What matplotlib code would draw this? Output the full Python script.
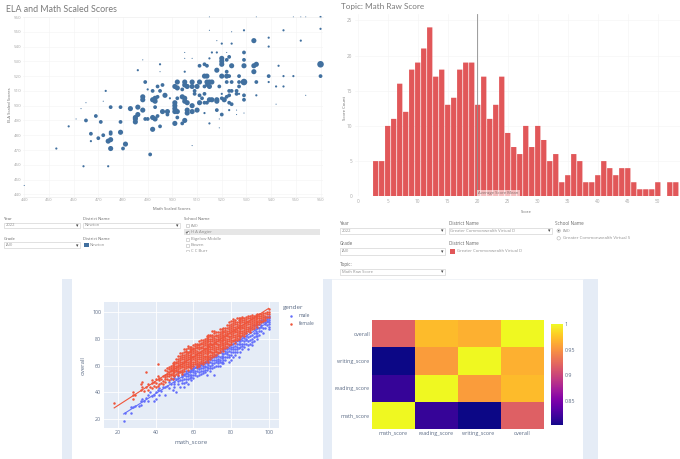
import numpy as np
import matplotlib
matplotlib.use('Agg')
import matplotlib.pyplot as plt
from matplotlib.patches import Rectangle, Circle

plt.rcParams['font.family'] = ['Open Sans', 'DejaVu Sans']

# top left: math score, ela score, number of students
district_points = [
    (440,446,1),(453,471,4),(458,486,4),(461,491,1),(463,498,1),(465,502,1),(465,490,12),(464,459,4),
    (467,481,12),(467,476,4),(469,493,12),(470,478,12),(471,489,12),(472,480,12),(472,503,1),(473,510,4),
    (474,476,22),(475,477,22),(474,459,4),(475,471,22),(475,481,12),(475,482,12),(475,499,12),(479,499,12),
    (479,489,12),(479,482,22),(480,471,12),(481,474,22),(483,498,22),(485,492,22),(485,491,22),(486,494,22),
    (485,489,22),(486,499,22),(486,524,4),(488,531,1),(488,497,22),(488,504,22),(488,506,22),(489,491,12),
    (490,491,12),(489,516,12),(490,511,4),(491,467,12),(492,492,22),(493,491,22),(492,484,22),(492,504,22),
    (493,505,22),(493,503,22),(494,506,12),(492,510,12),(494,513,12),(495,510,12),(496,514,12),(495,528,4),
    (495,523,1),(495,486,12),(493,499,12),(494,493,12),(496,496,22),(498,496,22),(498,494,12),(497,507,22),
    (499,505,4),(501,488,22),(501,502,22),(501,500,22),(501,498,22),(501,496,22),(502,496,22),(502,505,12),
    (501,513,22),(502,516,22),(502,512,22),(504,511,12),(504,488,12),(505,490,22),(502,492,12),(505,536,1),
    (505,532,1),(508,532,1),(505,523,4),(505,516,22),(505,514,22),(504,506,22),(505,505,22),(505,503,22),
    (506,502,22),(506,513,22),(508,513,22),(508,516,22),(510,513,22),(511,516,22),(506,497,22),(506,495,22),
    (508,496,22),(508,500,22),(510,497,22),(508,473,1),(509,510,12),(509,508,12),(511,507,12),(511,502,22),
    (512,505,12),(513,508,12),(513,502,12),(514,502,12),(513,495,4),(515,488,4),(511,527,12),(513,528,12),
    (514,527,12),(513,520,22),(514,520,22),(514,516,22),(515,516,22),(516,516,22),(515,513,22),(513,513,12),
    (514,514,12),(515,532,4),(516,536,4),(518,536,4),(515,551,1),(518,544,1),(520,542,4),(522,536,1),
    (524,542,4),(524,550,1),(529,551,4),(515,504,22),(516,504,22),(518,504,22),(518,503,22),(520,505,12),
    (521,504,22),(518,524,22),(518,497,12),(519,513,12),(519,491,1),(519,485,1),(520,494,12),(520,508,4),
    (520,532,22),(520,530,22),(520,528,22),(522,531,12),(523,533,12),(520,520,22),(522,520,22),(522,523,12),
    (522,516,12),(524,516,12),(524,527,22),(523,520,12),(523,510,12),(524,510,12),(522,506,12),(523,507,12),
    (523,502,12),(524,501,12),(523,497,4),(526,497,1),(526,494,1),(529,495,1),(526,510,12),(527,520,12),
    (527,516,12),(527,513,12),(526,508,12),(527,508,4),(529,516,36),(529,527,22),(529,531,12),(529,536,12),
    (529,504,12),(529,507,12),(533,544,22),(533,523,22),(533,527,22),(534,528,22),(534,516,12),(534,507,4),
    (539,546,4),(539,540,4),(539,520,12),(539,516,4),(542,513,4),(545,513,4),(543,527,4),(545,520,4),
    (549,520,4),(545,551,4),(552,544,4),(560,552,4),(560,528,36),(560,520,12),(542,501,1),(554,507,1),
    (560,560,4),(534,560,1),(549,560,1),(552,560,1),(554,560,1),(515,560,1),
]

# top right histogram
raw_scores = [3,4,5,6,7,8,9,10,11,12,13,14,15,16,17,18,19,20,21,22,23,24,25,26,27,28,
              29,30,31,32,33,34,35,36,37,38,39,40,41,42,43,44,45,46,47,48,49,50,52,53]
raw_counts = [5,5,10,11,16,12,18,19,21,24,17,18,13,14,18,19,19,13,17,11,13,17,9,7,6,10,
              7,10,8,5,6,2,3,6,5,2,2,3,5,4,3,4,4,2,1,1,1,2,2,2]
raw_mean = 19.8

# bottom left: math score -> overall scores
male_rows = {
    23:[19],24:[25],27:[25,29],28:[29],29:[30],31:[30],32:[31,34],33:[35],34:[34],35:[36],36:[34,38],37:[40],
    38:[37],39:[34,38],40:[35,40],41:[42],42:[38,43],43:[41],44:[44],45:[38,44],46:[45],47:[43,48],48:[46,50],
    49:[42,50],50:[44,48,52],51:[40,50],52:[46,52,55],53:[44,49],54:[47,53,55],55:[44,50],56:[48,52,56],
    57:[46,54],58:[51,56,59],59:[49,53],60:[51,55,58,60],61:[56],62:[52,58,61],63:[55,60],64:[54,58,62],
    65:[56,61],66:[57,60,63],67:[53,59],68:[58,62,65],69:[56,60],70:[58,62,66],71:[53,64],72:[60,66,68],
    73:[62,65],74:[60,64,70],75:[63,67],76:[62,66,72],77:[64,69],78:[66,70,74],79:[63,68],80:[64,68,72,76],
    81:[70,74],82:[68,72,78],83:[70,74],84:[66,76,80],85:[70,74,78],86:[72,76,82],87:[74,78],88:[76,80,84],
    89:[72,78],90:[76,82,88],91:[75,80],92:[78,84,90],93:[82,86],94:[80,84,90],95:[83,88],96:[86,90,94],
    97:[84,92],98:[88,94,96],99:[90,96],100:[87,89,92,95,97],
}
male_extra = {
    50:[46.3,50.7],52:[48.7,51],54:[49.3,51.3],55:[47.3,52.7,54],56:[50.3,54.7],57:[49.7,52.3,56],58:[53.3,55],
    59:[51.3,55.7,57.3],60:[53.3,56.7],61:[52.7,54.3,58.7],62:[55.7,59.7],63:[53.3,57.7,58.7],64:[56.3,60.3],
    65:[54.7,58.3,60],66:[55.3,59,61.7],67:[56.7,61.7,63],68:[60.3,63.7],69:[58.3,62.7,65],70:[60.3,64.3],
    71:[58.7,61.7,66],72:[62.3,64.3],73:[59.3,63.7,67.3],74:[62.3,66.7],75:[61.7,65.3,69],76:[64.3,68.3],
    77:[66.7,71],78:[68.3,72],79:[66.3,70.7,73],80:[70.3,74],81:[66.7,72.3,76],82:[70.3,74.7],83:[72.3,76.3],
    84:[72.7,78],85:[76.3,80],86:[74.3,78.7],87:[76.3,80.7],88:[78.7,82],89:[75.3,81],90:[79.3,84.7],91:[77.7,83],
    92:[81.3,87],93:[84.3,88.7],94:[82.3,87.7],95:[85.3,91],96:[88.3,92],97:[87.7,94],98:[90.7,92.3],99:[93,94.7],
    100:[90.7,94],
}
female_rows = {
    18:[32],28:[35,38,40],29:[38],32:[42,46],33:[44,48],34:[41],35:[44,55],36:[42,46],37:[44],38:[43,47,49],
    39:[45,48],40:[44,47,50],41:[45,52,61],42:[46,49,51],43:[47,50],44:[46,52],45:[48,50,53,57],46:[50,54,56,58],
    47:[49,52,55,59],48:[51,54,57,60],49:[50,53,56,59,62],50:[52,55,58,61],51:[54,57,60,63],52:[53,56,59,62,65],
    53:[55,58,61,64,67],54:[54,57,60,63,66,69],55:[56,59,62,65,68],56:[58,61,64,67,70,72],57:[57,60,63,66,69,73],
    58:[59,62,65,68,71,74],59:[58,61,64,67,70,72],60:[60,63,66,69,72,75],61:[61,64,67,70,73],
    62:[59,62,65,68,71,74,76],63:[60,63,66,69,72,75,78],64:[62,65,68,71,74,77],65:[61,64,67,70,73,76,79],
    66:[63,66,69,72,75,78],67:[64,67,70,73,76,79,82],68:[63,66,69,72,75,78,81],69:[65,68,71,74,77,80,83],
    70:[66,69,72,75,78,81,86],71:[67,70,73,76,79,82,84],72:[68,71,74,77,80,83],73:[69,72,75,78,81,85],
    74:[70,73,76,79,82,85],75:[72,75,78,81,84,87],76:[71,74,77,80,83,86],77:[73,76,79,82,85,88],
    78:[74,77,80,83,86,90],79:[75,78,81,84,87,90],80:[76,79,82,85,88,91,93],81:[78,81,84,87,90,93],
    82:[77,80,83,86,89,92],83:[79,82,85,88,91,95],84:[80,83,86,89,92],85:[81,84,87,90,93,95],86:[83,86,89,92,95],
    87:[82,85,88,91,94],88:[84,87,90,93,96],89:[86,89,92,95],90:[85,88,91,94,97],91:[87,90,93,96],92:[88,91,94,97],
    93:[90,93,96],94:[89,92,95,98],95:[91,94,97],96:[92,95,98],97:[93,96,99],98:[94,97],99:[96,98,100],
    100:[96,98,100,102],
}
female_extra = {
    44:[48.3],45:[51.7],46:[52.3],47:[53.7,57.3],48:[52.7,55.7,58.3],49:[54.7,57.7,60.3],50:[53.3,56.7,59.7,63],
    51:[55.7,58.3,61.7,65],52:[54.3,57.7,60.7,63.3,67],53:[56.3,59.7,62.7,65.3,69],54:[55.3,58.7,61.3,64.7,67.7],
    55:[57.7,60.3,63.7,66.3,69.7,72],56:[59.7,62.3,65.7,68.3,71],57:[58.7,61.3,64.7,67.7,70.3,74.3],
    58:[60.3,63.7,66.3,69.7,72.3],59:[59.7,62.7,65.3,68.7,71.3,73.7],60:[61.3,64.7,67.3,70.7,73.3],
    61:[62.3,65.7,68.3,71.7,74.3,76],62:[60.7,63.3,66.7,69.3,72.7,75.3],63:[61.3,64.7,67.7,70.3,73.7,76.3],
    64:[63.3,66.7,69.3,72.7,75.7,78.7],65:[62.7,65.3,68.7,71.3,74.7,77.3],66:[64.7,67.3,70.7,73.3,76.7,79.7],
    67:[65.3,68.7,71.3,74.7,77.7,80.3],68:[64.7,67.3,70.7,73.7,76.3,79.7,83],69:[66.3,69.7,72.3,75.7,78.3,81.7],
    70:[67.7,70.3,73.7,76.3,79.7,83],71:[68.3,71.7,74.3,77.7,80.3,86],72:[69.7,72.3,75.7,78.3,81.7,84.7],
    73:[70.3,73.7,76.3,79.7,82.7],74:[71.7,74.3,77.7,80.3,83.7,87],75:[73.3,76.7,79.3,82.7,85.3],
    76:[72.7,75.3,78.7,81.3,84.7,88],77:[74.3,77.7,80.3,83.7,86.3],78:[75.7,78.3,81.7,84.3,87.7],
    79:[76.3,79.7,82.3,85.7,88.3,92],80:[77.7,80.3,83.7,86.3,89.7],81:[79.3,82.7,85.3,88.7,91.3,94.7],
    82:[78.7,81.3,84.7,87.3,90.7,94],83:[80.3,83.7,86.3,89.7,92.7],84:[81.7,84.3,87.7,90.3,93.7,95.3],
    85:[82.3,85.7,88.3,91.7,94.3],86:[84.3,87.7,90.3,93.7,96.3],87:[83.7,86.3,89.7,92.3,95.7],88:[85.3,88.7,91.3,94.7],
    89:[87.3,90.7,93.3,96.7],90:[86.3,89.7,92.3,95.3],91:[88.7,91.3,94.7,97.3],92:[89.3,92.7,95.3],93:[91.7,94.3,97.7],
    94:[90.7,93.3,96.7],95:[92.3,95.7,98.3],96:[93.3,96.7],97:[94.7,97.7],98:[95.3,98.7],
}
male_trend_x = [23, 100]
male_trend_y = [24, 92.5]
female_trend_x = [18, 100]
female_trend_y = [28.5, 102.5]

# bottom right correlation
score_names = ['math_score', 'reading_score', 'writing_score', 'overall']
corr = [[1.000, 0.818, 0.803, 0.919],
        [0.818, 1.000, 0.955, 0.971],
        [0.803, 0.955, 1.000, 0.966],
        [0.919, 0.971, 0.966, 1.000]]

W, H = 680, 459
DARK = '#666666'
PLOTLY = '#5b6b85'

fig = plt.figure(figsize=(W / 100, H / 100), dpi=100, facecolor='white')


def px_axes(x0, y0, x1, y1):
    return fig.add_axes([x0 / W, 1 - y1 / H, (x1 - x0) / W, (y1 - y0) / H])


ui = fig.add_axes([0, 0, 1, 1], zorder=0)
ui.set_xlim(0, W)
ui.set_ylim(H, 0)
ui.axis('off')


def label(x, y, s, size=3.0, color=DARK, **kw):
    kw.setdefault('va', 'center')
    ui.text(x, y, s, fontsize=size, color=color, **kw)


def dropdown(x0, x1, y0, y1, s, size=3.0):
    ui.add_patch(Rectangle((x0, y0), x1 - x0, y1 - y0, fc='white', ec='#d4d4d4', lw=0.5))
    label(x0 + 1.5, (y0 + y1) / 2, s, size=size, color='#909090')
    ui.text(x1 - 3, (y0 + y1) / 2, '▾', fontsize=3.5, color='#444444', ha='center', va='center',
            family='DejaVu Sans')


def unpack(*tables):
    xs = [m for rows in tables for m in rows for _ in rows[m]]
    ys = [o for rows in tables for m in rows for o in rows[m]]
    return xs, ys


# grey strips behind the two plotly pictures
for x0, x1 in [(62, 72), (323, 332), (583, 598)]:
    ui.add_patch(Rectangle((x0, 279), x1 - x0, H - 279, fc='#e5ecf6', ec='none'))
ui.plot([332, 583], [279, 279], color='#eef1f6', lw=0.6)

# left filters
label(4, 219, 'Year')
dropdown(4, 80, 222.7, 228.3, '2022')
label(4, 238.7, 'Grade')
dropdown(4, 80, 242, 248.3, '(All)')
label(83, 219, 'District Name')
dropdown(83, 180, 222.7, 228.3, 'Newton')
label(83, 238.7, 'District Name')
ui.add_patch(Rectangle((84, 242.7), 4.7, 4.7, fc='#41709f', ec='none'))
label(90, 245, 'Newton', color='#909090')
label(184, 219, 'School Name')
ui.add_patch(Rectangle((184, 229.3), 136, 6, fc='#e6e6e6', ec='none'))
for yy, s in zip([225.7, 232.3, 239, 245.3, 251.2], ['(All)', 'H A Angier', 'Bigelow Middle', 'Bowen', 'C C Burr']):
    ui.add_patch(Rectangle((185.5, yy - 1.5), 3, 3, fc='white', ec='#b8b8b8', lw=0.4))
    label(191, yy, s, size=3.1, color='#8c8c8c')
ui.plot([186.2, 187, 188.2], [232.3, 233.2, 231.4], color='#555555', lw=0.5)
ui.add_patch(Rectangle((180, 252.2), 60, 5, fc='white', ec='none'))

# right filters
label(340, 223.3, 'Year', size=3.3)
dropdown(340, 445, 227.7, 234, '2022')
label(340, 243.7, 'Grade', size=3.3)
dropdown(340, 445, 247.7, 254.7, '(All)')
label(340, 264.3, 'Topic:', size=3.3)
dropdown(340, 445, 268.7, 275, 'Math Raw Score')
label(449, 223.3, 'District Name', size=3.3)
dropdown(449, 552, 227.7, 234, 'Greater Commonwealth Virtual D')
label(449, 243.7, 'District Name', size=3.3)
ui.add_patch(Rectangle((450.3, 249), 4.7, 4.7, fc='#e15759', ec='none'))
label(457, 251.2, 'Greater Commonwealth Virtual D', color='#909090')
label(555.3, 223.3, 'School Name', size=3.3)
for yy, s in zip([230.7, 238.3], ['(All)', 'Greater Commonwealth Virtual S']):
    ui.add_patch(Circle((558.7, yy), 1.7, fc='white', ec='#b0b0b0', lw=0.4))
    label(563.3, yy, s, size=3.2, color='#909090')
ui.add_patch(Circle((558.7, 230.7), 0.8, fc='#666666', ec='none'))

# titles
label(5.7, 9, 'ELA and Math Scaled Scores', size=6.4, color='#7a7a7a', family='Lato')
label(341, 7, 'Topic: Math Raw Score', size=5.9, color='#7a7a7a', family='Lato')

# ELA vs math
ax = px_axes(23, 17, 323, 196.7)
math_vals = [p[0] for p in district_points]
ela_vals = [p[1] for p in district_points]
students = np.array([p[2] for p in district_points])
ax.scatter(math_vals, ela_vals, s=students * 0.62, color='#41709f', linewidths=0, clip_on=False)
ax.set_xlim(439.5, 561)
ax.set_ylim(438.4, 560)
ax.set_xticks(np.arange(440, 561, 10))
ax.set_yticks(np.arange(440, 561, 10))
ax.grid(color='#f3f3f3', lw=0.4)
ax.set_axisbelow(True)
ax.tick_params(length=0, labelsize=3.2, labelcolor='#a8a8a8', pad=1)
for s in ax.spines.values():
    s.set_visible(False)
ax.spines['top'].set_visible(True)
ax.spines['top'].set_color('#f0f0f0')
ax.spines['top'].set_linewidth(0.4)
ax.spines['bottom'].set_visible(True)
ax.spines['bottom'].set_color('#e8e8e8')
ax.spines['bottom'].set_linewidth(0.4)
label(172, 209, 'Math Scaled Scores', ha='center')
label(10, 105, 'ELA Scaled Scores', ha='center', rotation=90)

# raw score histogram
ax = px_axes(355, 14, 680, 196.3)
bars = ax.bar(raw_scores, raw_counts, width=0.88, color='#e15759', linewidth=0)
for b in bars:
    b.set_snap(False)
ax.axvline(raw_mean, color='#8d8d8d', lw=0.6)
ax.set_xlim(-0.45, 53.7)
ax.set_ylim(0, 25.9)
ax.set_xticks(np.arange(0, 51, 5))
ax.set_yticks(np.arange(0, 26, 5))
ax.grid(color='#f3f3f3', lw=0.4)
ax.set_axisbelow(True)
ax.tick_params(length=0, labelsize=3.4, labelcolor='#a8a8a8', pad=2)
for s in ax.spines.values():
    s.set_visible(False)
ax.text(raw_mean + 0.3, 0.45, 'Average Score Mean', fontsize=3.1, color='#8a6a6a', va='center',
        bbox=dict(fc='white', ec='none', alpha=0.6, pad=0.8))
label(526, 212, 'Score', ha='center')
label(344.7, 108, 'Score Count', size=3.1, ha='center', rotation=90)

# overall vs math
ax = px_axes(104, 302.3, 278.7, 427.7)
ax.set_facecolor('#e5ecf6')
male_x, male_y = unpack(male_rows, male_extra)
female_x, female_y = unpack(female_rows, female_extra)
ax.scatter(male_x, male_y, s=3.2, color='#636efa', linewidths=0, zorder=3)
ax.plot(male_trend_x, male_trend_y, color='#636efa', lw=0.8, zorder=3)
ax.scatter(female_x, female_y, s=3.2, color='#ef553b', linewidths=0, zorder=3)
ax.plot(female_trend_x, female_trend_y, color='#ef553b', lw=0.8, zorder=3)
ax.set_xlim(12.6, 105.3)
ax.set_ylim(13.8, 107)
ax.set_xticks(np.arange(20, 101, 20))
ax.set_yticks(np.arange(20, 101, 20))
ax.grid(color='white', lw=0.6)
ax.set_axisbelow(True)
ax.tick_params(length=0, labelsize=3.8, labelcolor=PLOTLY, pad=2)
for s in ax.spines.values():
    s.set_visible(False)
label(191.3, 442.3, 'math_score', size=4.4, color=PLOTLY, ha='center')
label(83, 365.7, 'overall', size=4.3, color=PLOTLY, ha='center', rotation=90)
label(283.3, 307.7, 'gender', size=4.5, color=PLOTLY)
for yy, s, c in [(315.7, 'male', '#636efa'), (323.7, 'female', '#ef553b')]:
    ui.scatter([290.7], [yy], s=3.2, color=c, linewidths=0)
    label(298.7, yy, s, size=3.6, color=PLOTLY)
ui.set_xlim(0, W)
ui.set_ylim(H, 0)

# correlation heatmap
ax = px_axes(371.7, 320, 543.3, 429)
mesh = ax.imshow(np.array(corr), cmap='plasma', origin='lower', aspect='auto', vmin=0.803, vmax=1)
ax.set_xticks(range(4))
ax.set_xticklabels(score_names)
ax.set_yticks(range(4))
ax.set_yticklabels(score_names)
ax.tick_params(length=0, labelsize=3.9, labelcolor=PLOTLY, pad=1.2)
for s in ax.spines.values():
    s.set_visible(False)
cax = px_axes(550.7, 324, 562.7, 425.3)
cbar = fig.colorbar(mesh, cax=cax, ticks=[0.85, 0.9, 0.95, 1])
cbar.ax.set_yticklabels(['0.85', '0.9', '0.95', '1'])
cbar.ax.tick_params(length=0, labelsize=3.9, labelcolor=PLOTLY, pad=1.2)
cbar.outline.set_visible(False)

fig.savefig('out.png', dpi=100, facecolor='white')
